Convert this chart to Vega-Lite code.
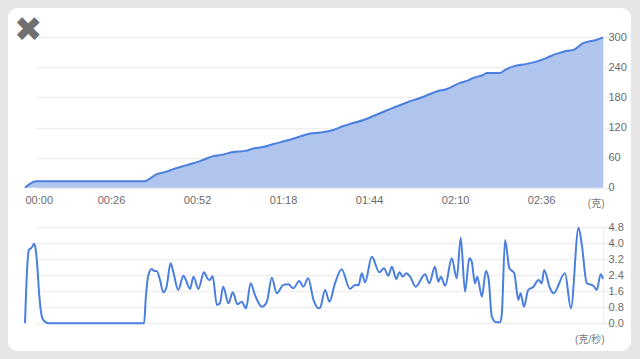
{
  "$schema": "https://vega.github.io/schema/vega-lite/v6.json",
  "width": 623,
  "height": 343,
  "autosize": "none",
  "padding": {"left": 8, "top": 8, "right": 9, "bottom": 8},
  "background": "#e6e6e6",
  "config": {
    "view": {"fill": "white", "stroke": null, "cornerRadius": 10},
    "font": "Liberation Sans",
    "axis": {"labelFont": "Liberation Sans", "labelFontSize": 11, "labelColor": "#6b6b6b", "titleFont": "Liberation Sans, Noto Sans CJK SC", "titleFontWeight": "normal", "titleColor": "#777777", "titleFontSize": 10, "gridColor": "#eeeeee", "gridWidth": 1.5}
  },
  "title": {"text": "✖", "anchor": "start", "frame": "group", "font": "DejaVu Sans", "fontSize": 34, "fontWeight": "normal", "color": "#707070", "offset": -40, "dx": 6},
  "datasets": {
    "weight": [
      {"t": 0, "w": 0}, {"t": 3.3, "w": 13}, {"t": 36.0, "w": 13}, {"t": 39.8, "w": 27}, {"t": 42.8, "w": 32},
      {"t": 44.8, "w": 37}, {"t": 48.9, "w": 45}, {"t": 52.9, "w": 53}, {"t": 56.9, "w": 63}, {"t": 58.9, "w": 65},
      {"t": 63.0, "w": 71}, {"t": 67.0, "w": 74}, {"t": 69.0, "w": 78}, {"t": 72.0, "w": 81}, {"t": 75.1, "w": 87},
      {"t": 79.1, "w": 94}, {"t": 83.1, "w": 102}, {"t": 86.2, "w": 108}, {"t": 89.2, "w": 110}, {"t": 93.2, "w": 115},
      {"t": 96.2, "w": 123}, {"t": 99.2, "w": 129}, {"t": 102.3, "w": 135}, {"t": 105.3, "w": 143}, {"t": 109.3, "w": 154},
      {"t": 115.4, "w": 170}, {"t": 119.4, "w": 179}, {"t": 124.5, "w": 192}, {"t": 127.5, "w": 197}, {"t": 131.5, "w": 209},
      {"t": 133.5, "w": 213}, {"t": 135.5, "w": 219}, {"t": 138.5, "w": 225}, {"t": 139.6, "w": 229}, {"t": 143.6, "w": 229},
      {"t": 145.1, "w": 235}, {"t": 147.6, "w": 242}, {"t": 151.7, "w": 247}, {"t": 155.7, "w": 254}, {"t": 157.7, "w": 259},
      {"t": 159.7, "w": 265}, {"t": 161.7, "w": 269}, {"t": 163.8, "w": 273}, {"t": 165.8, "w": 275}, {"t": 166.8, "w": 279},
      {"t": 168.3, "w": 287}, {"t": 170.8, "w": 292}, {"t": 172.8, "w": 295}, {"t": 174.7, "w": 300}
    ],
    "flow": [
      {"t": 0, "f": 0}, {"t": 0.7, "f": 2.9}, {"t": 1.2, "f": 3.67}, {"t": 1.8, "f": 3.75}, {"t": 2.2, "f": 3.83},
      {"t": 2.7, "f": 3.98}, {"t": 3.1, "f": 3.83}, {"t": 3.7, "f": 2.9}, {"t": 4.3, "f": 1.42}, {"t": 4.9, "f": 0.5},
      {"t": 5.5, "f": 0.17}, {"t": 6.6, "f": 0.03}, {"t": 7.6, "f": 0}, {"t": 35.3, "f": 0}, {"t": 36.0, "f": 0},
      {"t": 36.5, "f": 1.25}, {"t": 37.3, "f": 2.42}, {"t": 38.3, "f": 2.72}, {"t": 39.0, "f": 2.62}, {"t": 39.8, "f": 2.62},
      {"t": 40.8, "f": 2.17}, {"t": 41.8, "f": 1.55}, {"t": 42.8, "f": 1.83}, {"t": 44.0, "f": 3.0}, {"t": 44.8, "f": 2.58},
      {"t": 46.3, "f": 1.67}, {"t": 47.9, "f": 2.38}, {"t": 48.4, "f": 2.25}, {"t": 49.9, "f": 1.72}, {"t": 50.9, "f": 2.33},
      {"t": 52.4, "f": 1.72}, {"t": 54.1, "f": 2.55}, {"t": 55.1, "f": 2.25}, {"t": 55.9, "f": 2.17}, {"t": 56.7, "f": 2.37},
      {"t": 58.0, "f": 0.92}, {"t": 58.9, "f": 1.0}, {"t": 59.9, "f": 1.83}, {"t": 61.5, "f": 1.0}, {"t": 62.8, "f": 1.55},
      {"t": 64.2, "f": 0.95}, {"t": 65.5, "f": 1.08}, {"t": 66.8, "f": 0.75}, {"t": 68.2, "f": 2.0}, {"t": 69.5, "f": 1.42},
      {"t": 71.6, "f": 0.83}, {"t": 73.1, "f": 1.08}, {"t": 74.6, "f": 2.28}, {"t": 76.1, "f": 1.5}, {"t": 78.1, "f": 1.92},
      {"t": 79.6, "f": 1.95}, {"t": 81.1, "f": 1.75}, {"t": 82.9, "f": 2.12}, {"t": 84.1, "f": 1.83}, {"t": 85.6, "f": 2.25},
      {"t": 87.2, "f": 1.17}, {"t": 88.7, "f": 0.75}, {"t": 89.2, "f": 0.78}, {"t": 90.7, "f": 1.67}, {"t": 92.0, "f": 1.08},
      {"t": 93.7, "f": 2.0}, {"t": 95.7, "f": 2.7}, {"t": 98.2, "f": 1.72}, {"t": 99.8, "f": 1.92}, {"t": 100.8, "f": 1.9},
      {"t": 101.8, "f": 2.5}, {"t": 102.8, "f": 2.05}, {"t": 104.8, "f": 3.33}, {"t": 107.1, "f": 2.55}, {"t": 108.5, "f": 2.75},
      {"t": 109.8, "f": 2.38}, {"t": 110.9, "f": 2.83}, {"t": 112.2, "f": 2.22}, {"t": 113.2, "f": 2.55}, {"t": 114.2, "f": 2.33},
      {"t": 115.2, "f": 2.5}, {"t": 116.4, "f": 2.33}, {"t": 118.1, "f": 1.83}, {"t": 120.9, "f": 2.45}, {"t": 122.2, "f": 2.0},
      {"t": 123.9, "f": 2.83}, {"t": 124.9, "f": 2.08}, {"t": 125.7, "f": 2.33}, {"t": 127.0, "f": 1.88}, {"t": 129.0, "f": 3.25},
      {"t": 130.5, "f": 2.25}, {"t": 131.7, "f": 4.28}, {"t": 133.0, "f": 1.58}, {"t": 134.3, "f": 3.25}, {"t": 135.0, "f": 3.1},
      {"t": 136.0, "f": 2.0}, {"t": 136.7, "f": 2.33}, {"t": 138.1, "f": 1.33}, {"t": 139.3, "f": 2.62}, {"t": 140.1, "f": 2.25},
      {"t": 141.1, "f": 0.33}, {"t": 142.4, "f": 0.05}, {"t": 143.6, "f": 0.05}, {"t": 144.1, "f": 0.42}, {"t": 145.1, "f": 4.17},
      {"t": 146.4, "f": 2.75}, {"t": 147.4, "f": 2.6}, {"t": 147.9, "f": 2.5}, {"t": 149.1, "f": 1.17}, {"t": 149.8, "f": 1.5},
      {"t": 150.8, "f": 0.83}, {"t": 152.1, "f": 1.67}, {"t": 153.7, "f": 1.83}, {"t": 155.2, "f": 2.17}, {"t": 156.2, "f": 2.0},
      {"t": 156.9, "f": 2.67}, {"t": 158.7, "f": 1.75}, {"t": 159.7, "f": 1.5}, {"t": 163.2, "f": 2.5}, {"t": 165.0, "f": 0.75},
      {"t": 167.3, "f": 4.78}, {"t": 168.3, "f": 3.92}, {"t": 169.8, "f": 2.0}, {"t": 171.8, "f": 1.88}, {"t": 172.8, "f": 1.67},
      {"t": 174.0, "f": 2.45}, {"t": 174.7, "f": 2.22}
    ]
  },
  "layer": [
    {
      "data": {"name": "weight"},
      "mark": {"type": "area", "interpolate": "monotone", "color": "#b0c5ee", "opacity": 1, "line": {"color": "#4a7fe0", "strokeWidth": 2}},
      "encoding": {
        "x": {
          "field": "t", "type": "quantitative",
          "scale": {"domain": [0, 174.7], "range": [17, 595], "nice": false, "zero": false},
          "axis": {"orient": "bottom", "offset": -163.3, "values": [0, 26, 52, 78, 104, 130, 156],
                   "labelExpr": "utcFormat(datum.value * 1000, '%M:%S')", "labelFlush": true,
                   "domain": false, "ticks": false, "grid": false, "labelPadding": 7,
                   "title": "(克)", "titleX": 596, "titleY": 15.3, "titleAlign": "right", "titleBaseline": "middle"}
        },
        "y": {
          "field": "w", "type": "quantitative",
          "scale": {"domain": [0, 300], "range": [179.7, 29.3], "nice": false},
          "axis": {"orient": "right", "offset": -28, "values": [0, 60, 120, 180, 240, 300], "ticks": false,
                   "domain": true, "domainColor": "#eeeeee", "labelPadding": 5, "grid": true, "title": null}
        }
      }
    },
    {
      "data": {"name": "flow"},
      "mark": {"type": "line", "interpolate": "monotone", "color": "#4a7fe0", "strokeWidth": 2},
      "encoding": {
        "x": {"field": "t", "type": "quantitative"},
        "y": {
          "field": "f", "type": "quantitative",
          "scale": {"domain": [0, 4.8], "range": [315.3, 219.3], "nice": false},
          "axis": {"orient": "right", "offset": -28, "values": [0, 0.8, 1.6, 2.4, 3.2, 4, 4.8], "format": ".1f",
                   "ticks": false, "domain": true, "domainColor": "#eeeeee", "labelPadding": 5, "grid": true,
                   "title": "(克/秒)", "titleAngle": 0, "titleX": 1, "titleY": 331.5, "titleAlign": "right", "titleBaseline": "middle"}
        }
      }
    }
  ],
  "resolve": {"scale": {"y": "independent"}, "axis": {"y": "independent"}}
}
